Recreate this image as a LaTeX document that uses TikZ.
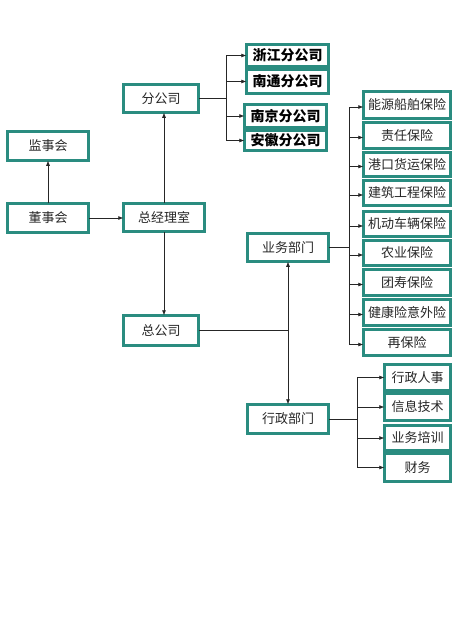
\documentclass[tikz,border=0pt]{standalone}
\usepackage{fontspec}
\setmainfont{Noto Sans CJK SC}
\usetikzlibrary{arrows.meta}
\definecolor{bd}{RGB}{42,140,128}
\begin{document}
\begin{tikzpicture}[x=1pt,y=-1pt,
  box/.style={rectangle, draw=black!70, line width=0.5pt, double=bd, double distance=2.2pt,
    fill=white, inner sep=0pt, font=\fontsize{13}{13}\selectfont, text=black!85},
  bbox/.style={box, font=\fontsize{14}{14}\selectfont\bfseries, text=black},
  ybox/.style={box, minimum width=87pt},
  abox/.style={box, minimum width=66pt},
  ln/.style={line width=0.6pt, draw=black!85},
  arr/.style={ln, -{Latex[length=5pt,width=4pt]}},
  darr/.style={ln, {Latex[length=5pt,width=4pt]}-{Latex[length=5pt,width=4pt]}}]
\useasboundingbox[fill=white] (0,0) rectangle (453,640);
% left column
\node[box, minimum width=81pt, minimum height=29pt] (jsh) at (48,146) {监事会};
\node[box, minimum width=81pt, minimum height=29pt] (dsh) at (48,218) {董事会};
\node[box, minimum width=81pt, minimum height=28pt] (zjl) at (164,217.5) {总经理室};
\node[box, minimum width=75pt, minimum height=28pt] (fgs) at (161,98.5) {分公司};
\node[box, minimum width=75pt, minimum height=30pt] (zgs) at (161,330.5) {总公司};
% branches
\node[bbox, minimum width=82pt, minimum height=22pt] (zj) at (287.5,55.5) {浙江分公司};
\node[bbox, minimum width=82pt, minimum height=24pt] (nt) at (287.5,81.5) {南通分公司};
\node[bbox, minimum width=82pt, minimum height=23pt] (nj) at (285.5,116) {南京分公司};
\node[bbox, minimum width=82pt, minimum height=20pt] (ah) at (285.5,140.5) {安徽分公司};
% business
\node[box, minimum width=81pt, minimum height=28pt] (ywb) at (288,247.5) {业务部门};
\node[ybox, minimum height=27pt] (i1) at (407,105) {能源船舶保险};
\node[ybox, minimum height=26pt] (i2) at (407,135.5) {责任保险};
\node[ybox, minimum height=24pt] (i3) at (407,164.5) {港口货运保险};
\node[ybox, minimum height=25pt] (i4) at (407,193) {建筑工程保险};
\node[ybox, minimum height=25pt] (i5) at (407,224) {机动车辆保险};
\node[ybox, minimum height=25pt] (i6) at (407,253) {农业保险};
\node[ybox, minimum height=26pt] (i7) at (407,282.5) {团寿保险};
\node[ybox, minimum height=26pt] (i8) at (407,312.5) {健康险意外险};
\node[ybox, minimum height=26pt] (i9) at (407,342.5) {再保险};
% admin
\node[box, minimum width=81pt, minimum height=29pt] (xzb) at (288,419) {行政部门};
\node[abox, minimum height=26pt] (a1) at (417.5,377.5) {行政人事};
\node[abox, minimum height=27pt] (a2) at (417.5,407) {信息技术};
\node[abox, minimum height=25pt] (a3) at (417.5,438) {业务培训};
\node[abox, minimum height=28pt] (a4) at (417.5,467.5) {财务};
% bracket coordinates
\coordinate (b1) at (226,0);
\coordinate (b2) at (349,0);
\coordinate (b3) at (357,0);
% connectors
\draw[arr] (dsh.north) -- (jsh.south);
\draw[arr] (dsh.east) -- (dsh.east -| zjl.west);
\draw[arr] (zjl.north) -- (zjl.north |- fgs.south);
\draw[arr] (zjl.south) -- (zjl.south |- zgs.north);
\draw[ln] (fgs.east) -- (fgs.east -| b1);
\draw[ln] (b1 |- zj) -- (b1 |- ah);
\foreach \n in {zj,nt,nj,ah} \draw[arr] (b1 |- \n) -- (\n.west);
\draw[ln] (ywb.east) -- (ywb.east -| b2);
\draw[ln] ([yshift=-2pt]b2 |- i1) -- ([yshift=-2pt]b2 |- i9);
\foreach \n in {i1,i2,i3,i4,i5,i6,i7,i8,i9} \draw[arr] ([yshift=-2pt]b2 |- \n) -- ([yshift=-2pt]\n.west);
\draw[darr] (ywb.south) -- (xzb.north);
\draw[ln] (zgs.east) -- (zgs.east -| ywb.south);
\draw[ln] (xzb.east) -- (xzb.east -| b3);
\draw[ln] (b3 |- a1) -- (b3 |- a4);
\foreach \n in {a1,a2,a3,a4} \draw[arr] (b3 |- \n) -- (\n.west);
\end{tikzpicture}
\end{document}
